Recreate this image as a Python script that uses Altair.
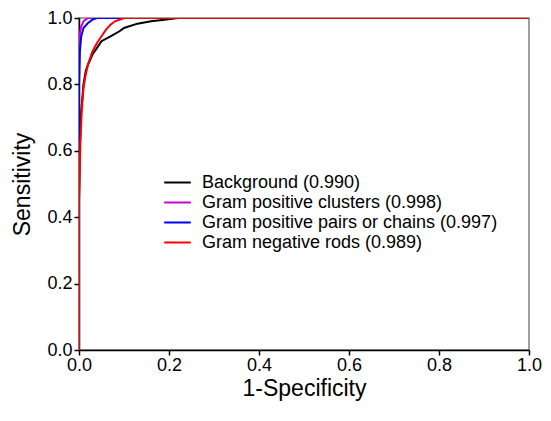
import altair as alt
import pandas as pd

series_names = [
    "Background (0.990)",
    "Gram positive clusters (0.998)",
    "Gram positive pairs or chains (0.997)",
    "Gram negative rods (0.989)",
]
colors = ["#000000", "#CC00CC", "#0000FF", "#FF0000"]

bg_fpr = [0.0, 0.0, 0.002, 0.005, 0.01, 0.015, 0.02, 0.03, 0.04, 0.05, 0.07, 0.09, 0.1, 0.13, 0.16, 0.19, 0.22, 1.0]
bg_tpr = [0.0, 0.45, 0.62, 0.72, 0.80, 0.84, 0.86, 0.89, 0.91, 0.93, 0.945, 0.96, 0.97, 0.983, 0.99, 0.995, 1.0, 1.0]

gpc_fpr = [0.0, 0.0, 0.002, 0.005, 0.01, 0.015, 0.02, 1.0]
gpc_tpr = [0.0, 0.90, 0.955, 0.975, 0.99, 0.995, 1.0, 1.0]

gpp_fpr = [0.0, 0.0, 0.002, 0.005, 0.01, 0.02, 0.03, 0.04, 1.0]
gpp_tpr = [0.0, 0.80, 0.90, 0.945, 0.97, 0.985, 0.995, 1.0, 1.0]

gnr_fpr = [0.0, 0.0, 0.003, 0.006, 0.01, 0.015, 0.02, 0.03, 0.04, 0.05, 0.06, 0.07, 0.08, 0.1, 1.0]
gnr_tpr = [0.0, 0.45, 0.62, 0.72, 0.79, 0.83, 0.86, 0.90, 0.925, 0.945, 0.965, 0.98, 0.99, 1.0, 1.0]

tick_values = [0.0, 0.2, 0.4, 0.6, 0.8, 1.0]

rows = []
for name, fx, ty in zip(series_names,
                        [bg_fpr, gpc_fpr, gpp_fpr, gnr_fpr],
                        [bg_tpr, gpc_tpr, gpp_tpr, gnr_tpr]):
    for i, (a, b) in enumerate(zip(fx, ty)):
        rows.append({"series": name, "fpr": a, "tpr": b, "order": i})
df = pd.DataFrame(rows)

font = "Liberation Sans"

def make_axis(title_pad, label_pad):
    return alt.Axis(values=tick_values, format=".1f", grid=False,
                    domainColor="#000000", tickColor="#000000", tickSize=5, tickWidth=1.5,
                    domainWidth=1.5, labelFlush=False, labelOverlap=False,
                    labelFontSize=18, titleFontSize=23, labelColor="#000000",
                    titleColor="#000000", titleFontWeight="normal",
                    labelFont=font, titleFont=font, titlePadding=title_pad,
                    labelPadding=label_pad)

chart = alt.Chart(df).mark_line(strokeWidth=2, clip=True).encode(
    x=alt.X("fpr:Q", title="1-Specificity",
            scale=alt.Scale(domain=[0, 1], nice=False, zero=False),
            axis=make_axis(3, 1)),
    y=alt.Y("tpr:Q", title="Sensitivity",
            scale=alt.Scale(domain=[0, 1], nice=False, zero=False),
            axis=make_axis(12, 2)),
    color=alt.Color("series:N", sort=series_names,
                    scale=alt.Scale(domain=series_names, range=colors),
                    legend=alt.Legend(title=None, orient="none", legendX=88, legendY=154,
                                      symbolType="M-1.4,0H1.4", symbolStrokeWidth=2,
                                      symbolFillColor="transparent",
                                      symbolSize=361, labelFontSize=18, labelFont=font,
                                      labelColor="#000000", rowPadding=0, labelLimit=400,
                                      labelOffset=14, symbolOffset=0)),
    order="order:Q",
).properties(
    width=450, height=332,
    autosize="none",
    padding={"left": 71, "top": 10, "right": 14, "bottom": 55},
).configure_view(stroke="#808080", strokeWidth=1.5)

chart.save("out.html", embed_options={"renderer": "svg", "actions": False})
